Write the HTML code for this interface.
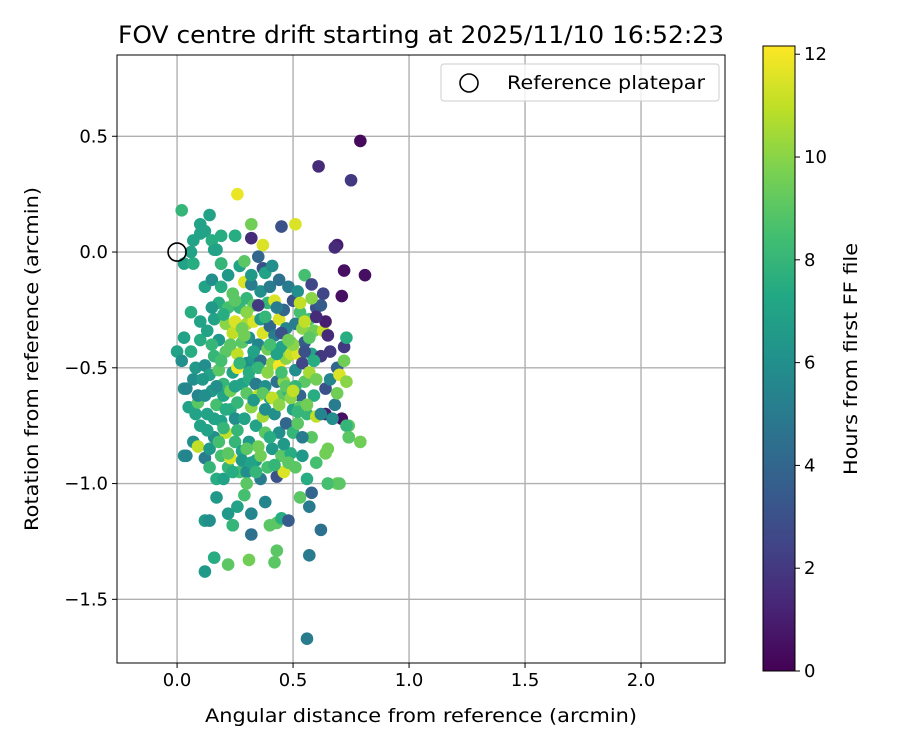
<!DOCTYPE html>
<html><head><meta charset="utf-8"><style>
body{margin:0;background:#fff;}
svg text{font-family:"DejaVu Sans","Liberation Sans",sans-serif;fill:#000;}
</style></head><body>
<svg id="chart" width="900" height="750" viewBox="0 0 900 750" xmlns="http://www.w3.org/2000/svg">
<defs>
<linearGradient id="vir" x1="0" y1="1" x2="0" y2="0">
<stop offset="0" stop-color="#440154"/><stop offset="0.1" stop-color="#482475"/><stop offset="0.2" stop-color="#414487"/><stop offset="0.3" stop-color="#355f8d"/><stop offset="0.4" stop-color="#2a788e"/><stop offset="0.5" stop-color="#21918c"/><stop offset="0.6" stop-color="#22a884"/><stop offset="0.7" stop-color="#44bf70"/><stop offset="0.8" stop-color="#7ad151"/><stop offset="0.9" stop-color="#bddf26"/><stop offset="1" stop-color="#fde725"/>
</linearGradient>
<clipPath id="clip"><rect x="117" y="55" width="608" height="608"/></clipPath>
</defs>
</svg>
<script>
const xTicks=[0,0.5,1,1.5,2];
const xTickLabels=["0.0","0.5","1.0","1.5","2.0"];
const yTicks=[0.5,0,-0.5,-1,-1.5];
const yTickLabels=["0.5","0.0","\u22120.5","\u22121.0","\u22121.5"];
const cTicks=[0,2,4,6,8,10,12];
const xs=[0.79,0.61,0.75,0.81,0.72,0.69,0.68,0.71,0.72,0.71,0.64,0.26,0.51,0.45,0.32,0.02,0.14,0.10,0.16,0.12,0.25,0.37,0.32,0.07,0.03,0.19,0.56,0.12,0.16,0.22,0.31,0.42,0.43,0.57,0.62,0.12,0.24,0.32,0.79,0.74,0.74,0.69,0.65,0.03,0.03,
0.00,0.03,0.04,0.04,0.05,0.06,0.06,0.07,0.08,0.07,0.09,0.09,0.08,0.07,0.06,0.09,0.10,0.10,0.10,0.02,
0.12,0.12,0.12,0.13,0.13,0.14,0.14,0.14,0.15,0.15,0.15,0.16,0.16,0.16,0.17,0.17,0.17,0.17,0.18,0.18,0.18,0.19,0.19,0.19,0.19,0.19,0.20,0.20,0.20,0.21,0.21,0.21,0.22,0.22,0.22,0.22,
0.23,0.23,0.23,0.24,0.24,0.24,0.24,0.25,0.25,0.25,0.25,0.26,0.26,0.26,0.26,0.27,0.27,0.27,0.28,0.28,0.28,0.29,0.29,0.29,0.29,0.30,0.30,0.30,0.30,0.30,0.30,
0.31,0.31,0.31,0.32,0.32,0.32,0.32,0.33,0.33,0.33,0.34,0.34,0.34,0.35,0.35,0.35,0.35,0.36,0.36,0.36,0.36,0.37,0.37,0.37,0.38,0.38,0.38,0.38,0.39,0.39,0.39,0.40,0.40,0.40,0.40,
0.41,0.41,0.41,0.42,0.42,0.42,0.43,0.43,0.43,0.44,0.44,0.44,0.44,0.45,0.45,0.45,0.45,0.46,0.46,0.46,0.47,0.47,0.47,0.48,0.48,0.48,0.49,0.49,0.49,0.50,0.50,0.50,
0.51,0.51,0.51,0.52,0.52,0.52,0.53,0.53,0.53,0.54,0.54,0.54,0.55,0.55,0.55,0.56,0.56,0.57,0.57,0.57,0.58,0.58,0.58,0.58,0.59,0.59,0.60,0.60,0.60,0.60,
0.62,0.62,0.62,0.63,0.64,0.64,0.64,0.65,0.65,0.65,0.66,0.66,0.67,0.68,0.69,0.69,0.70,0.70,0.72,0.73,0.73,0.74,0.73,
0.11,0.13,0.15,0.17,0.19,0.21,0.23,0.25,0.27,0.29,0.31,0.33,0.35,0.37,0.39,0.41,0.43,0.45,0.47,0.49,0.51,0.53,0.55,0.57,0.59,
0.12,0.14,0.16,0.18,0.20,0.22,0.24,0.26,0.28,0.30,0.32,0.34,0.36,0.38,0.40,0.42,0.44,0.46,0.48,0.50,0.52,0.54,0.56,
0.10,0.15,0.20,0.25,0.30,0.35,0.40,0.45,0.50,0.55,0.60,0.28,0.33,0.38,0.43,0.48,0.53,0.58,0.63];
const ys=[0.48,0.37,0.31,-0.10,-0.08,0.03,0.02,-0.19,-0.41,-0.72,-0.70,0.25,0.12,0.11,0.12,0.18,0.16,0.12,0.01,0.09,0.07,0.03,0.06,0.05,-0.05,-0.05,-1.67,-1.38,-1.32,-1.35,-1.33,-1.34,-1.29,-1.31,-1.20,-1.16,-1.18,-1.22,-0.82,-0.80,-0.75,-1.00,-1.00,-0.88,-0.59,
-0.43,-0.37,-0.59,-0.88,-0.67,-0.43,-0.26,-0.55,-0.70,-0.82,-0.65,-0.84,-0.50,-0.05,0.00,-0.62,-0.38,0.08,-0.75,-0.47,
-0.15,-0.49,-0.89,-0.70,-0.34,-0.53,-0.93,-1.16,-0.12,0.05,-0.60,-0.80,-0.45,-0.29,-0.98,-1.06,-0.66,0.01,-0.51,-0.22,-0.38,-0.88,-0.73,-0.05,-0.15,0.07,-0.57,-0.98,-0.62,-0.31,-0.43,-0.78,-0.93,-1.13,-0.10,-0.24,
-0.60,-0.68,-0.89,-0.18,-0.35,-0.52,-1.18,-0.30,-0.72,-0.82,0.07,-0.44,-0.50,-0.65,-1.10,-0.06,-0.95,-0.24,-0.57,-0.86,-0.39,-0.13,-0.04,-0.72,-1.05,-0.48,-0.95,-0.61,-0.31,-0.20,-1.00,
-0.37,-0.55,-0.82,-0.14,-0.67,-0.10,-1.13,-0.46,-0.30,-0.23,-0.75,-0.57,-0.90,-0.02,-0.40,-0.62,-0.84,-0.17,-0.29,-0.47,-0.98,-0.07,-0.71,-0.35,-0.58,-0.09,-0.78,-1.08,-0.22,-0.42,-0.93,-0.63,-0.15,-0.32,-1.18,
-0.48,-0.85,-0.06,-0.21,-0.70,-0.36,-0.97,-0.56,-1.17,-0.29,-0.49,-0.12,-0.78,-0.41,-0.62,-0.88,-1.15,-0.25,-0.95,-0.56,-0.33,-0.46,-0.74,-0.15,-0.60,-1.16,-0.87,-0.39,-0.44,-0.21,-0.68,-0.78,
-0.31,-0.93,-0.51,-0.44,-0.17,-0.74,-0.62,-0.26,-1.06,-0.33,-0.88,-0.48,-0.10,-0.56,-0.39,-0.70,-0.98,-1.10,-0.52,-0.29,-0.14,-0.80,-1.04,-0.44,-0.34,-0.62,-0.91,-0.71,-0.24,-0.55,
-0.23,-0.45,-0.70,-0.34,-0.30,-0.59,-0.87,-0.36,-0.85,-1.00,-0.55,-0.43,-0.72,-0.66,-0.61,-0.50,-1.00,-0.53,-0.47,-0.37,-0.75,-0.80,-0.56,
-0.55,-0.77,-0.40,-0.58,-0.47,-0.68,-0.40,-0.58,-0.48,-0.36,-0.52,-0.64,-0.50,-0.61,-0.52,-0.63,-0.44,-0.52,-0.58,-0.63,-0.58,-0.67,-0.43,-0.37,-0.47,
-0.62,-0.85,-0.72,-0.82,-0.76,-0.87,-0.95,-0.77,-0.90,-0.85,-0.91,-0.95,-0.88,-0.68,-0.80,-0.92,-0.66,-0.83,-0.91,-0.60,-0.69,-0.80,-0.66,
-0.30,-0.24,-0.27,-0.21,-0.26,-0.23,-0.40,-0.35,-0.40,-0.30,-0.28,-0.33,-0.43,-0.28,-0.24,-0.38,-0.22,-0.20,-0.18];
const hs=[0.3,1.5,2,0.5,0.5,1,1.5,0.5,2,0.5,1,11.8,11.5,3,9.5,8,7,7,7,7,7,11.5,1.5,7,7,7,5,6.5,7.5,9,9.5,9,9,5,4.5,6.5,7.5,4.5,9.5,9,9,9.5,9,6,6,
7,7,5.5,5.5,7,7.5,7.5,6,7,6,9,11,6.5,7.5,7,5.5,7.5,7,7,6,
7,6,5,7,7,7,8,6,6,7.5,6.5,6,8,7,7.5,6.5,8.5,7,9,7.5,6.5,8.5,7,8,7.5,7.5,8,7,7,10,9,11,8,6.5,6.5,8.5,
9.5,7.5,11.5,9,11,7,8,11.5,6,8,7.5,11,12,8,7,7,8.5,8,7,7,9,11.5,9,7,8.5,6,6,9,10.5,8,9,
6,7.5,6.5,5,10,6.5,5.5,6.5,11.5,9,7,5,6.5,4,5.5,11,9.5,6,6.5,4.5,5,3,10.5,11.5,6,7,9,5.5,8,9.5,8.5,7,5,4,9,
10,6.5,6,11.5,6,5,3,4.5,9,11.5,12,4.5,6,7,9,9,7.5,4,11.5,10,5.5,10,4,5,8,3.5,7.5,8.5,11,3,7,8,
5,9,6,11.5,6,9,4,8.5,9,10,6.5,2.5,8.5,9,3.5,8,7.5,5,10.5,8.5,2.5,9,4,7,9.5,7.5,8.5,11,3,9.5,
3.5,2,5.5,11,1,3,9.5,1.5,9.5,8.5,5.5,2,6,5,9.5,4,9,11.5,9.5,7.5,8,9,10,
6.5,7,8,6,8.5,7.5,9,7,8,9.5,7.5,6.5,8,9,10,11,7,8.5,9,10,8,9,3,9,7.5,
6,6.5,7,8.5,8,9,7.5,8,6.5,9,7,8,9.5,6,7.5,8,10,6.5,9,11,8,5,9.5,
7,6.5,7.5,9,10,2,8.5,3,10,11,1.5,9.5,7,8,5,9.5,11,10,2.5];

const NS="http://www.w3.org/2000/svg";
const svg=document.getElementById('chart');
const L=117,R=725,T=55,B=663;
const xMin=-0.259,xMax=2.362,yMin=-1.775,yMax=0.851;
const sx=v=>L+(v-xMin)/(xMax-xMin)*(R-L);
const sy=v=>B-(v-yMin)/(yMax-yMin)*(B-T);
const cT=46,cB=671,cMax=12.16;
const sc=v=>cB-v/cMax*(cB-cT);
function mk(tag,at,parent){const e=document.createElementNS(NS,tag);for(const k in at)e.setAttribute(k,at[k]);(parent||svg).appendChild(e);return e;}
const vstops=[[68,1,84],[72,36,117],[65,68,135],[53,95,141],[42,120,142],[33,145,140],[34,168,132],[68,191,112],[122,209,81],[189,223,38],[253,231,37]];
function vir(t){t=Math.max(0,Math.min(1,t))*10;const i=Math.min(9,Math.floor(t)),f=t-i;const a=vstops[i],b=vstops[i+1];return `rgb(${a.map((c,k)=>Math.round(c+(b[k]-c)*f)).join(',')})`;}

xTicks.forEach((v,i)=>{const g=mk('line',{x1:sx(v),x2:sx(v),y1:T,y2:B,stroke:'#b0b0b0','stroke-width':1.4});

});
yTicks.forEach((v,i)=>{const g=mk('line',{x1:L,x2:R,y1:sy(v),y2:sy(v),stroke:'#b0b0b0','stroke-width':1.4});

});

const pg=mk('g',{'clip-path':'url(#clip)'});


for(let i=0;i<xs.length;i++){
 const c=mk('circle',{cx:sx(xs[i]),cy:sy(ys[i]),r:6.3,fill:vir(hs[i]/cMax)},pg);
 
 
}
const ref=mk('circle',{cx:sx(0),cy:sy(0),r:9,fill:'none',stroke:'#000','stroke-width':1.6});



const fr=mk('rect',{x:L,y:T,width:R-L,height:B-T,fill:'none',stroke:'#000','stroke-width':1});



xTicks.forEach((v,i)=>{mk('line',{x1:sx(v),x2:sx(v),y1:B,y2:B+5,stroke:'#000'});
 const t=mk('text',{x:sx(v),y:B+23,'text-anchor':'middle','font-size':18});t.textContent=xTickLabels[i];
 
 });
yTicks.forEach((v,i)=>{mk('line',{x1:L-5,x2:L,y1:sy(v),y2:sy(v),stroke:'#000'});
 const t=mk('text',{x:L-9,y:sy(v)+6,'text-anchor':'end','font-size':18});t.textContent=yTickLabels[i];
 
 });

function label(txt,at,name){const t=mk('text',at);t.textContent=txt;return t;}
label('FOV centre drift starting at 2025/11/10 16:52:23',{x:421,y:43,'text-anchor':'middle','font-size':24,textLength:606,lengthAdjust:'spacingAndGlyphs'},'chart-title');
label('Angular distance from reference (arcmin)',{x:421,y:722,'text-anchor':'middle','font-size':19,textLength:432,lengthAdjust:'spacingAndGlyphs'},'x-axis-title');
label('Rotation from reference (arcmin)',{x:0,y:0,'text-anchor':'middle','font-size':19,textLength:344,lengthAdjust:'spacingAndGlyphs',transform:'translate(38,359) rotate(-90)'},'y-axis-title');

const lg=mk('g',{});


mk('rect',{x:441,y:64,width:278,height:37,rx:3,fill:'#fff','fill-opacity':0.8,stroke:'#ccc'},lg);
mk('circle',{cx:469,cy:83,r:9,fill:'none',stroke:'#000','stroke-width':1.6},lg);
const lt=mk('text',{x:507,y:89,'font-size':19,textLength:198,lengthAdjust:'spacingAndGlyphs'},lg);lt.textContent='Reference platepar';



const cb=mk('rect',{x:763,y:cT,width:32,height:cB-cT,fill:'url(#vir)',stroke:'#000','stroke-width':1});


cTicks.forEach(v=>{mk('line',{x1:795,x2:800,y1:sc(v),y2:sc(v),stroke:'#000'});
 const t=mk('text',{x:804,y:sc(v)+6,'font-size':18});t.textContent=String(v);
 
 });
label('Hours from first FF file',{x:0,y:0,'text-anchor':'middle','font-size':19,textLength:232,lengthAdjust:'spacingAndGlyphs',transform:'translate(857,359) rotate(-90)'},'colorbar-title');
</script>
</body></html>
